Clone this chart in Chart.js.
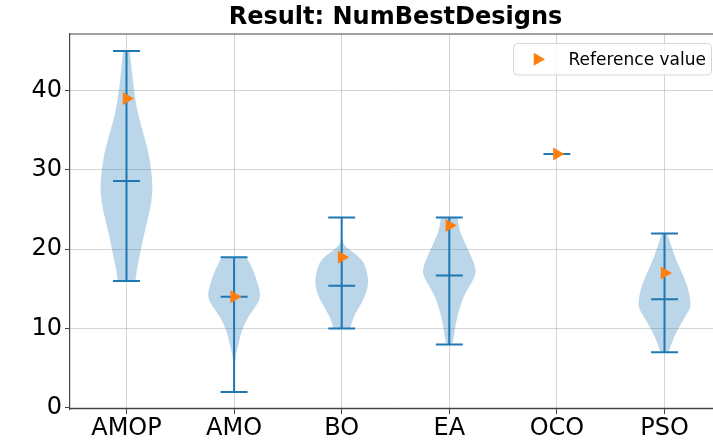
<!DOCTYPE html>
<html>
<head>
<meta charset="utf-8">
<script src="https://cdn.jsdelivr.net/npm/chart.js@4/dist/chart.umd.min.js"></script>
<style>
  html, body { margin: 0; padding: 0; background: #fff; overflow: hidden; }
  canvas { display: block; }
</style>
</head>
<body>
<canvas id="violin" width="730" height="442"></canvas>
<script>
// categories and summary stats
const categories = ['AMOP', 'AMO', 'BO', 'EA', 'OCO', 'PSO'];
const minValues = [16, 2, 10, 8, 32, 7];
const maxValues = [45, 19, 24, 24, 32, 22];
const medianValues = [28.6, 14, 15.4, 16.7, 32, 13.7];
const referenceValues = [39, 14, 19, 23, 32, 17];
const yTicks = [0, 10, 20, 30, 40];

// violin outlines: value levels and relative half widths (1 = widest)
const amopLevels = [16, 17.2, 19.7, 22.3, 24.8, 27.3, 29.8, 32.4, 34.9, 37.4, 40, 42.5, 45];
const amopWidths = [0.33, 0.37, 0.52, 0.68, 0.87, 0.98, 0.93, 0.81, 0.6, 0.4, 0.28, 0.2, 0.12];
const amoLevels = [2, 4, 5.6, 6.85, 8.1, 9.8, 11.5, 12.75, 14, 15.7, 17.4, 19];
const amoWidths = [0.01, 0.015, 0.03, 0.07, 0.17, 0.28, 0.52, 0.8, 1.0, 0.88, 0.71, 0.46];
const boLevels = [10, 11.5, 13.2, 14.5, 15.9, 17, 18.3, 19.2, 20, 20.7, 21.5, 24];
const boWidths = [0.31, 0.43, 0.74, 0.92, 1.0, 0.95, 0.84, 0.6, 0.25, 0.05, 0.01, 0];
const eaLevels = [8.1, 9, 10.7, 12.3, 14, 15.3, 16.5, 17.4, 19.1, 20.8, 22.4, 24];
const eaWidths = [0.12, 0.17, 0.24, 0.36, 0.52, 0.74, 0.95, 1.0, 0.82, 0.58, 0.37, 0.31];
const ocoLevels = [32];
const ocoWidths = [0];
const psoLevels = [7.1, 8.3, 9.6, 11.3, 12.55, 13.4, 15.1, 16.8, 18.4, 20.1, 21.8, 22];
const psoWidths = [0.16, 0.28, 0.45, 0.73, 0.96, 0.97, 0.88, 0.68, 0.46, 0.28, 0.12, 0.08];

const violinLevels = [amopLevels, amoLevels, boLevels, eaLevels, ocoLevels, psoLevels];
const violinWidths = [amopWidths, amoWidths, boWidths, eaWidths, ocoWidths, psoWidths];

const blue = '#1f77b4';
const orange = '#ff7f0e';
const halfWidth = 0.25;   // widest half of a violin, in x units
const capHalf = 0.125;
const FONT = 'DejaVu Sans';

function smoothSide(ctx, pts) {
  ctx.lineTo(pts[0][0], pts[0][1]);
  for (let i = 1; i < pts.length - 1; i++) {
    const mx = (pts[i][0] + pts[i + 1][0]) / 2;
    const my = (pts[i][1] + pts[i + 1][1]) / 2;
    ctx.quadraticCurveTo(pts[i][0], pts[i][1], mx, my);
  }
  const last = pts[pts.length - 1];
  ctx.lineTo(last[0], last[1]);
}

const violinPlugin = {
  id: 'violins',
  beforeDatasetsDraw(chart) {
    const { ctx, scales: { x, y } } = chart;
    ctx.save();
    categories.forEach((c, i) => {
      const pos = i + 1;
      const lv = violinLevels[i], wd = violinWidths[i];
      if (lv.length > 1) {
        const right = lv.map((v, k) => [x.getPixelForValue(pos + wd[k] * halfWidth), y.getPixelForValue(v)]);
        const left = lv.map((v, k) => [x.getPixelForValue(pos - wd[k] * halfWidth), y.getPixelForValue(v)]).reverse();
        ctx.beginPath();
        ctx.moveTo(right[0][0], right[0][1]);
        smoothSide(ctx, right);
        smoothSide(ctx, left);
        ctx.closePath();
        ctx.fillStyle = 'rgba(31,119,180,0.3)';
        ctx.fill();
      }
      // whisker and caps
      const px = x.getPixelForValue(pos);
      ctx.strokeStyle = blue;
      ctx.lineWidth = 2;
      ctx.beginPath();
      ctx.moveTo(px, y.getPixelForValue(minValues[i]));
      ctx.lineTo(px, y.getPixelForValue(maxValues[i]));
      [minValues[i], maxValues[i], medianValues[i]].forEach(v => {
        const py = y.getPixelForValue(v);
        ctx.moveTo(x.getPixelForValue(pos - capHalf), py);
        ctx.lineTo(x.getPixelForValue(pos + capHalf), py);
      });
      ctx.stroke();
    });
    ctx.restore();
  },
  afterDraw(chart) {
    const { ctx, chartArea: a } = chart;
    ctx.save();
    // top spine
    ctx.strokeStyle = '#444';
    ctx.lineWidth = 1.2;
    ctx.beginPath();
    ctx.moveTo(a.left, a.top);
    ctx.lineTo(a.right, a.top);
    ctx.stroke();
    // title
    ctx.fillStyle = '#000';
    ctx.font = 'bold 24px "' + FONT + '"';
    ctx.textAlign = 'center';
    ctx.textBaseline = 'middle';
    ctx.fillText('Result: NumBestDesigns', (a.left + a.right) / 2, 18);
    // legend box
    const bx = 513.5, by = 43.5, bw = 198, bh = 31.5, r = 4;
    ctx.beginPath();
    ctx.roundRect(bx, by, bw, bh, r);
    ctx.fillStyle = 'rgba(255,255,255,0.8)';
    ctx.fill();
    ctx.strokeStyle = 'rgba(204,204,204,0.8)';
    ctx.lineWidth = 1;
    ctx.stroke();
    const ds = chart.data.datasets[0];
    Chart.helpers.drawPoint(ctx, { pointStyle: 'triangle', rotation: 90, radius: 7.5, borderWidth: 0 }, bx + 24, by + bh / 2);
    ctx.fillStyle = orange;
    ctx.fill();
    ctx.fillStyle = '#000';
    ctx.font = '17px "' + FONT + '"';
    ctx.textAlign = 'left';
    ctx.fillText(ds.label, bx + 55, by + bh / 2 + 1);
    ctx.restore();
  }
};

new Chart(document.getElementById('violin'), {
  type: 'scatter',
  data: {
    datasets: [{
      label: 'Reference value',
      data: referenceValues.map((v, i) => ({ x: i + 1, y: v })),
      pointStyle: 'triangle',
      rotation: 90,
      pointRadius: 7.5,
      pointHoverRadius: 7.5,
      backgroundColor: orange,
      borderColor: orange,
      borderWidth: 0
    }]
  },
  options: {
    responsive: false,
    animation: false,
    devicePixelRatio: 1,
    layout: { padding: { top: 34, right: 9, left: 0, bottom: 0 } },
    plugins: { legend: { display: false }, tooltip: { enabled: false }, title: { display: false } },
    scales: {
      x: {
        type: 'linear',
        min: 0.475,
        max: 6.525,
        afterBuildTicks: s => { s.ticks = categories.map((c, i) => ({ value: i + 1 })); },
        afterFit: s => { s.height = 33; },
        ticks: {
          callback: (v, i) => categories[i],
          font: { family: FONT, size: 24 },
          color: '#000',
          padding: 0,
          maxRotation: 0,
          autoSkip: false
        },
        grid: { color: 'rgba(176,176,176,0.55)', lineWidth: 1, tickColor: '#444', tickLength: 5 },
        border: { color: '#444', width: 1.2 }
      },
      y: {
        min: -0.15,
        max: 47.15,
        afterBuildTicks: s => { s.ticks = yTicks.map(v => ({ value: v })); },
        afterFit: s => { s.width = 70; },
        ticks: {
          font: { family: FONT, size: 24 },
          color: '#000',
          padding: 3
        },
        grid: { color: 'rgba(176,176,176,0.55)', lineWidth: 1, tickColor: '#444', tickLength: 5 },
        border: { color: '#444', width: 1.2 }
      }
    }
  },
  plugins: [violinPlugin]
});
</script>
</body>
</html>
